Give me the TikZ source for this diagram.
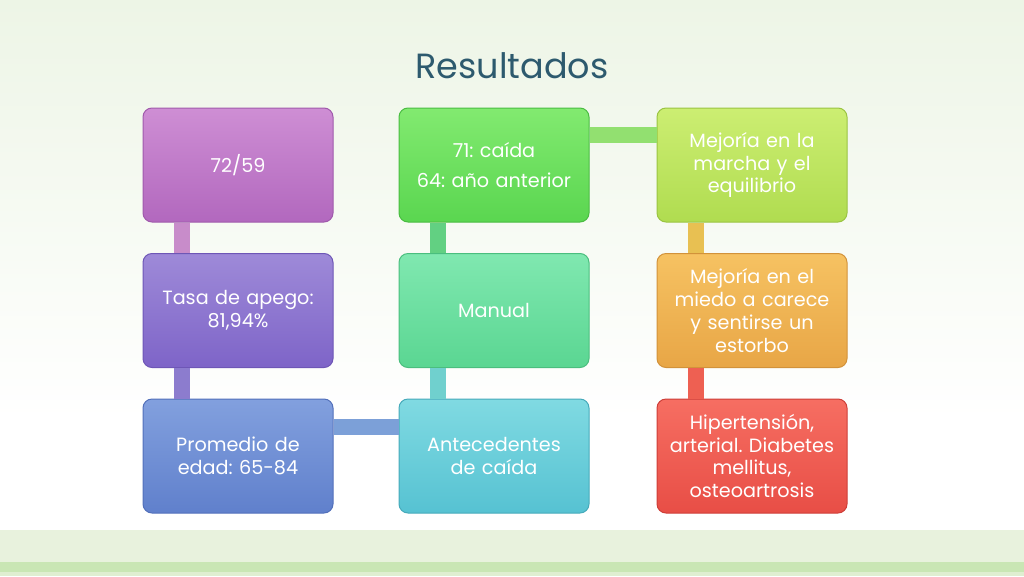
\documentclass[tikz,border=0pt]{standalone}
\usepackage{fontspec}
\setmainfont{Poppins}
\usetikzlibrary{positioning,calc}
\usepackage{xcolor}

\definecolor{bgtop}{HTML}{EDF5E6}
\definecolor{band}{HTML}{E8F2DD}
\definecolor{stripe}{HTML}{C9E6B4}
\definecolor{titlecol}{HTML}{2D5A6E}

\begin{document}
\frenchspacing
\begin{tikzpicture}[x=1pt,y=-1pt]
      \tikzstyle{obj}=[rectangle, rounded corners=9pt, minimum width=190pt, minimum height=114pt,
        inner sep=2pt, text width=184pt, align=center, text=white, line width=1pt,
        font=\fontsize{19.2}{22.8}\selectfont];
      \tikzstyle{link}=[line width=16pt];

      \useasboundingbox (0,0) rectangle (1024,576);
      \fill[top color=bgtop, bottom color=white] (0,0) rectangle (1024,420);
      \fill[band] (0,530) rectangle (1024,562);
      \fill[stripe] (0,562) rectangle (1024,572);
      \fill[band!70!stripe] (0,572) rectangle (1024,576);

      \node (title) at (512,66) [text=titlecol, font=\fontsize{35}{40}\selectfont]{Resultados};

      \node (v1) at (238,165)[obj, top color={rgb,255:red,206;green,142;blue,212}, bottom color={rgb,255:red,178;green,104;blue,190}, draw={rgb,255:red,160;green,90;blue,172}]{72/59};
      \node (v2) [below=30.5pt of v1, obj, top color={rgb,255:red,158;green,138;blue,216}, bottom color={rgb,255:red,126;green,100;blue,200}, draw={rgb,255:red,110;green,86;blue,182}]{Tasa de apego:\\81,94\%};
      \node (v3) [below=30.5pt of v2, obj, top color={rgb,255:red,130;green,160;blue,222}, bottom color={rgb,255:red,96;green,128;blue,204}, draw={rgb,255:red,82;green,112;blue,186}]{Promedio de\\edad: 65-84};
      \node (v4) [right=65pt of v3, obj, top color={rgb,255:red,128;green,218;blue,226}, bottom color={rgb,255:red,86;green,194;blue,210}, draw={rgb,255:red,70;green,170;blue,186}]{Antecedentes\\de caída};
      \node (v5) [above=30.5pt of v4, obj, top color={rgb,255:red,128;green,232;blue,176}, bottom color={rgb,255:red,90;green,214;blue,146}, draw={rgb,255:red,74;green,190;blue,126}]{Manual};
      \node (v6) [above=30.5pt of v5, obj, top color={rgb,255:red,130;green,234;blue,112}, bottom color={rgb,255:red,90;green,214;blue,80}, draw={rgb,255:red,74;green,188;blue,66}]{71: caída\\[8pt]64: año anterior};
      \node (v7) [right=67pt of v6, obj, top color={rgb,255:red,204;green,238;blue,114}, bottom color={rgb,255:red,176;green,220;blue,80}, draw={rgb,255:red,154;green,196;blue,66}]{Mejoría en la\\marcha y el\\equilibrio};
      \node (v8) [below=30.5pt of v7, obj, top color={rgb,255:red,246;green,194;blue,98}, bottom color={rgb,255:red,232;green,166;blue,70}, draw={rgb,255:red,210;green,146;blue,58}]{Mejoría en el\\miedo a carece\\y sentirse un\\estorbo};
      \node (v9) [below=30.5pt of v8, obj, top color={rgb,255:red,246;green,110;blue,98}, bottom color={rgb,255:red,232;green,78;blue,70}, draw={rgb,255:red,206;green,62;blue,56}]{Hipertensión,\\arterial. Diabetes\\mellitus,\\osteoartrosis};

      \draw [link, color={rgb,255:red,200;green,140;blue,202}] ([xshift=39pt]v1.south west) -- ([xshift=39pt]v2.north west);
      \draw [link, color={rgb,255:red,140;green,124;blue,206}] ([xshift=39pt]v2.south west) -- ([xshift=39pt]v3.north west);
      \draw [link, color={rgb,255:red,124;green,160;blue,216}] ([yshift=-28pt]v3.north east) -- ([yshift=-28pt]v4.north west);
      \draw [link, color={rgb,255:red,112;green,208;blue,206}] ([xshift=39pt]v4.north west) -- ([xshift=39pt]v5.south west);
      \draw [link, color={rgb,255:red,98;green,208;blue,130}] ([xshift=39pt]v5.north west) -- ([xshift=39pt]v6.south west);
      \draw [link, color={rgb,255:red,146;green,224;blue,112}] ([yshift=-27pt]v6.north east) -- ([yshift=-27pt]v7.north west);
      \draw [link, color={rgb,255:red,232;green,192;blue,82}] ([xshift=39pt]v7.south west) -- ([xshift=39pt]v8.north west);
      \draw [link, color={rgb,255:red,238;green,96;blue,82}] ([xshift=39pt]v8.south west) -- ([xshift=39pt]v9.north west);

    \end{tikzpicture}
\end{document}
